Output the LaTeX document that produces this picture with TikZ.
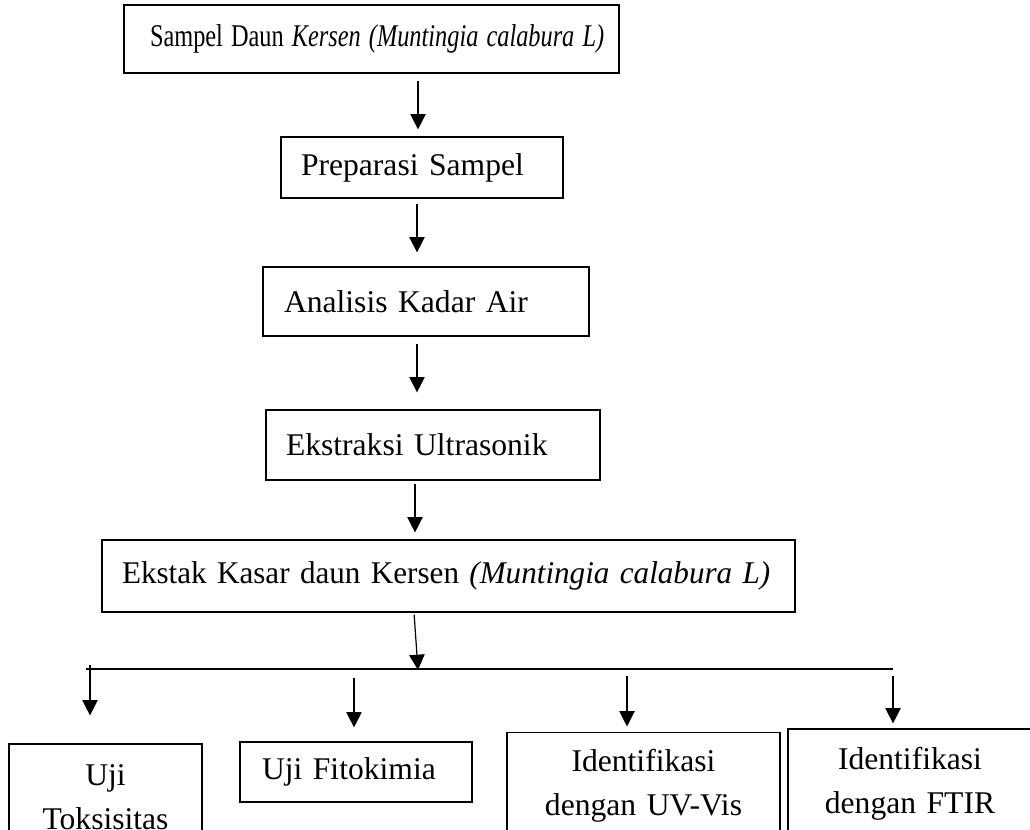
\documentclass[tikz,border=0pt]{standalone}
\usepackage{fontspec}
\setmainfont{Liberation Serif}
\usetikzlibrary{arrows.meta,calc}
\begin{document}
\begin{tikzpicture}[x=0.75pt,y=-0.75pt,
  font=\fontsize{23.7}{33}\selectfont,
  box/.style={draw, line width=0.9pt, rectangle, inner ysep=0pt},
  arr/.style={line width=0.9pt, -{Triangle[length=11.5pt,width=11.5pt]}},
  ln/.style={line width=0.9pt}]
\useasboundingbox (0,0) rectangle (1030,829);
\clip (0,0) rectangle (1030,829);

% main chain
\node[box, minimum width=371.25pt, minimum height=51pt, inner xsep=19.5pt, text width=332.25pt, align=left]
  (b1) at (371.5,39) {\raisebox{2.25pt}{\scalebox{0.77}[1]{Sampel Daun \textit{Kersen (Muntingia calabura L)}}}};
\node[box, minimum width=211.5pt, minimum height=45.75pt, inner xsep=15pt, text width=181.5pt, align=left]
  (b2) at (422,167.5) {Preparasi Sampel};
\node[box, minimum width=244.5pt, minimum height=51.75pt, inner xsep=15.75pt, text width=213pt, align=left]
  (b3) at (426,301.5) {Analisis Kadar Air};
\node[box, minimum width=250.5pt, minimum height=52.5pt, inner xsep=15pt, text width=220.5pt, align=left]
  (b4) at (433,445) {Ekstraksi Ultrasonik};
\node[box, minimum width=519.75pt, minimum height=54pt, inner xsep=15pt, text width=489.75pt, align=left]
  (b5) at (448.5,576) {\raisebox{-2pt}{\scalebox{0.985}[1]{Ekstak Kasar daun Kersen \textit{(Muntingia calabura L)}}}};

% bottom boxes
\node[box, minimum width=144.75pt, minimum height=79.5pt, inner xsep=12.375pt, text width=120pt, align=center]
  (bA) at (105.5,797) {Uji\\Toksisitas};
\node[box, minimum width=174pt, minimum height=45pt, inner xsep=16.5pt, text width=141pt, align=left]
  (bB) at (356,772) {Uji Fitokimia};
\node[box, minimum width=204.75pt, minimum height=80.25pt, inner xsep=12.375pt, text width=180pt, align=center]
  (bC) at (643.5,786) {Identifikasi\\dengan UV-Vis};
\node[box, minimum width=183pt, minimum height=82.5pt, inner xsep=12.75pt, text width=157.5pt, align=center]
  (bD) at (910,784) {Identifikasi\\dengan FTIR};

% x positions of chain arrows
\coordinate (c1) at (418,0);
\coordinate (c2) at (417,0);
\coordinate (c3) at (417,0);
\coordinate (c4) at (415,0);
\coordinate (c5) at (414,0);

\draw[arr, shorten <=5.25pt, shorten >=5.25pt] (b1.south -| c1) -- (b2.north -| c1);
\draw[arr, shorten <=3.75pt, shorten >=10.5pt] (b2.south -| c2) -- (b3.north -| c2);
\draw[arr, shorten <=5.25pt, shorten >=12.75pt] (b3.south -| c3) -- (b4.north -| c3);
\draw[arr, shorten <=2.25pt, shorten >=5.25pt] (b4.south -| c4) -- (b5.north -| c4);

% junction line
\coordinate (j) at (418,670);
\coordinate (hl) at (86,669);
\coordinate (hr) at (893,669);
\draw[arr, shorten <=1.5pt] (b5.south -| c5) -- (j);
\draw[ln] (hl) -- (hr);

% branch arrows
\coordinate (sA) at (90,665);
\coordinate (sB) at (354,678);
\coordinate (sC) at (627,676);
\coordinate (sD) at (893,676);
\draw[arr, shorten >=21pt] (sA) -- (sA |- bA.north);
\draw[arr, shorten >=10.5pt] (sB) -- (sB |- bB.north);
\draw[arr, shorten >=4.1pt] (sC) -- (sC |- bC.north);
\draw[arr, shorten >=3.75pt] (sD) -- (sD |- bD.north);
\end{tikzpicture}
\end{document}
